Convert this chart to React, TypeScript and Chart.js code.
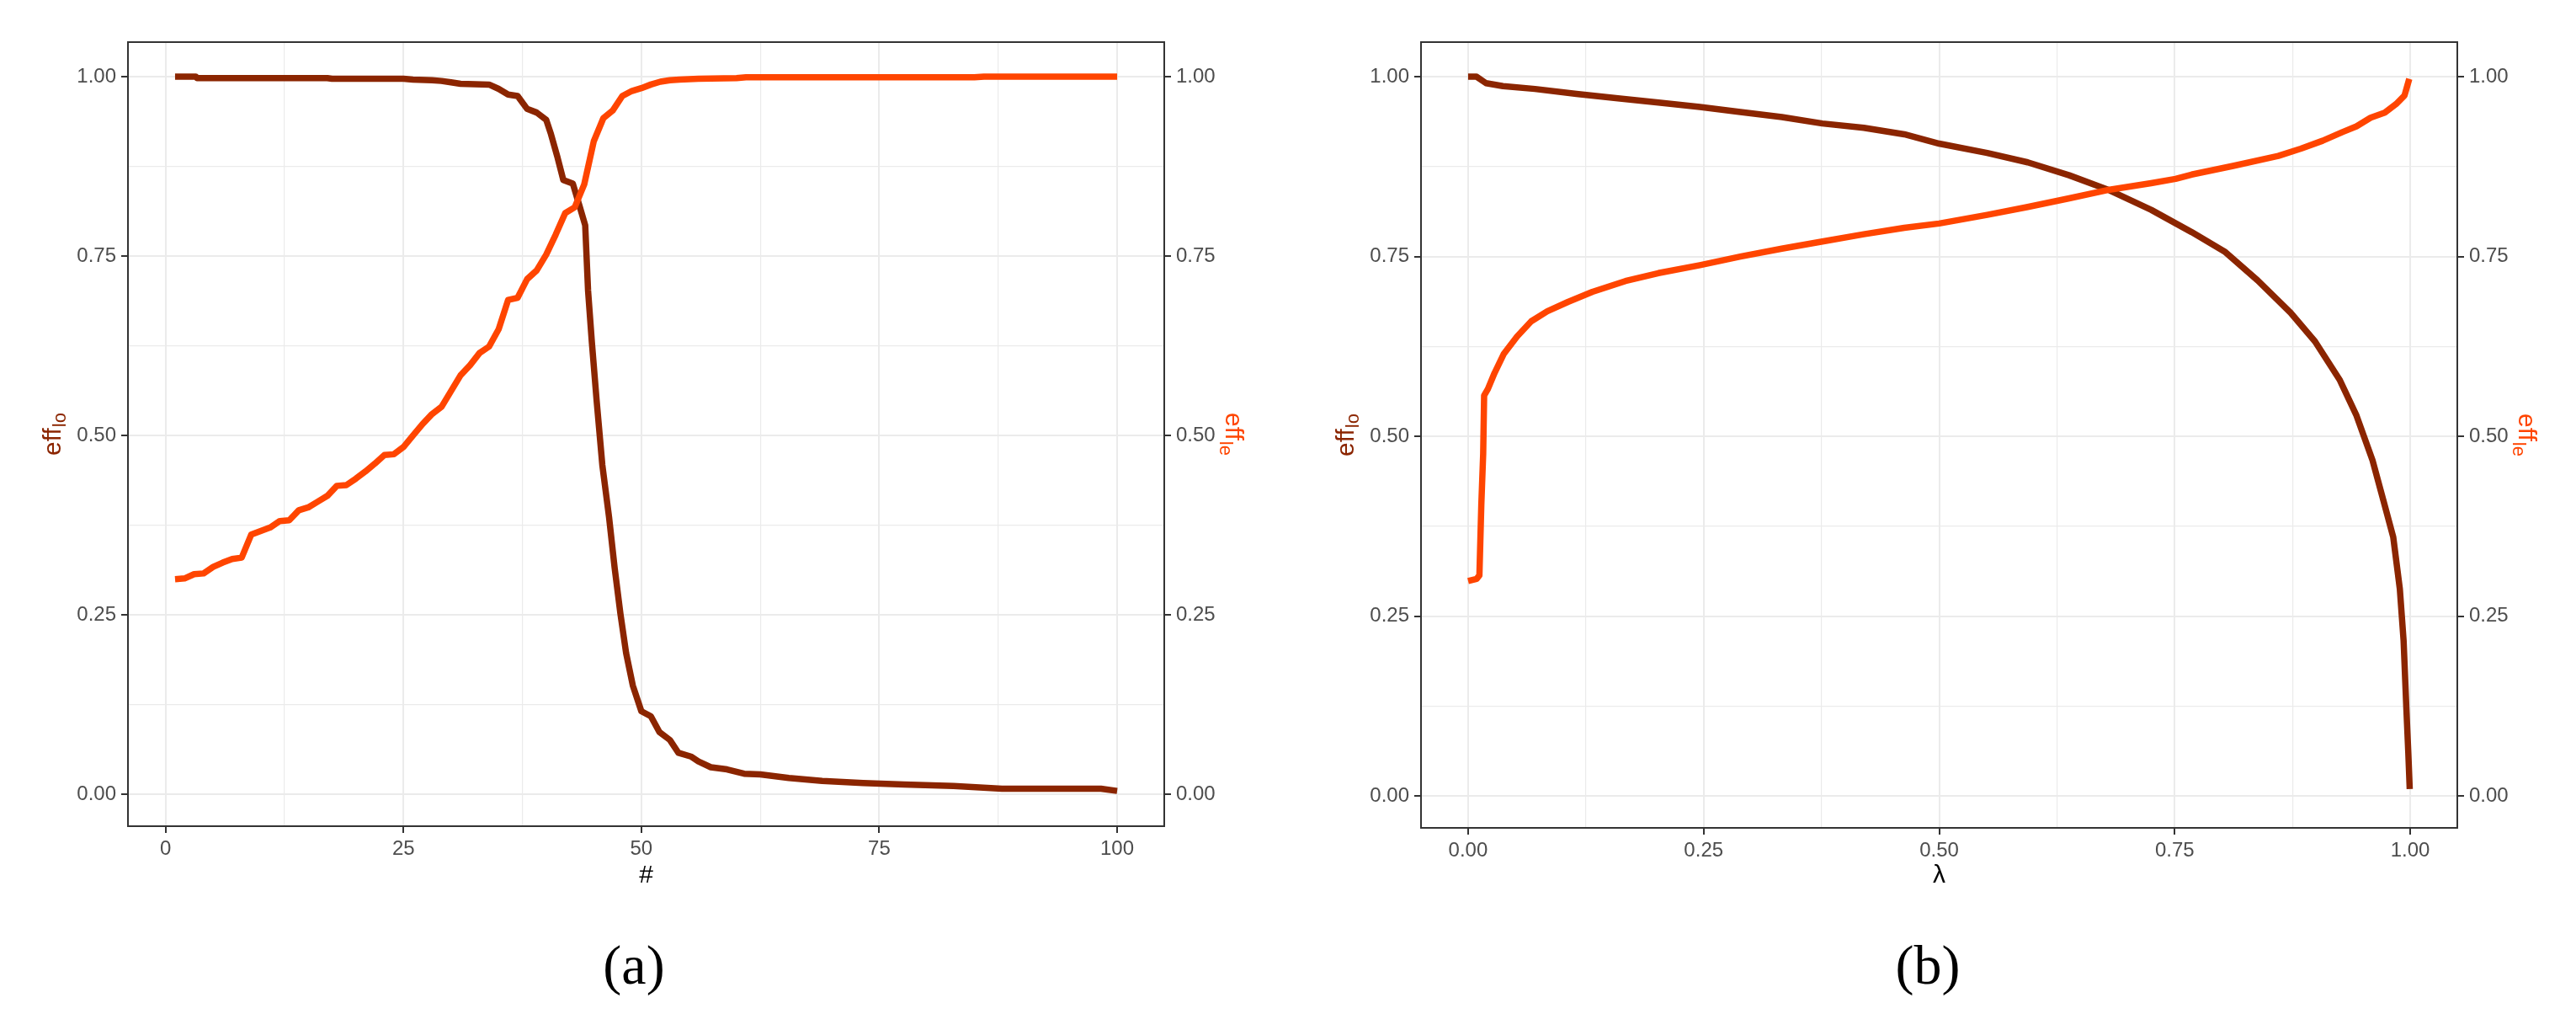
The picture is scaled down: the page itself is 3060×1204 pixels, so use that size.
import React, { useEffect, useRef } from 'react';
import { Chart, registerables } from 'chart.js';

Chart.register(...registerables);

const DARK = '#8B2500';
const ORANGE = '#FF4500';
const FAMILY = '"Liberation Sans", Arial, sans-serif';

// ---------- Panel (a): x = # ----------
const aLoX = [1, 3.2, 3.3, 17, 17.5, 25, 26, 28, 29, 30, 31, 34, 35, 36, 37, 38, 39, 40, 40.5, 41.2, 41.8, 42.8, 43.5, 44.1, 44.4, 44.8, 45.3, 45.9, 46.6, 47.2, 47.8, 48.4, 49.1, 50, 51, 51.9, 53, 53.9, 55.2, 56, 57.3, 59, 60.8, 62.5, 65.5, 69, 73.3, 77.6, 82.8, 87.9, 98.3, 100];
const aLoY = [1.0, 1.0, 0.998, 0.998, 0.997, 0.997, 0.996, 0.995, 0.994, 0.992, 0.99, 0.989, 0.983, 0.975, 0.973, 0.955, 0.95, 0.94, 0.92, 0.887, 0.856, 0.851, 0.82, 0.793, 0.702, 0.63, 0.549, 0.459, 0.387, 0.315, 0.252, 0.197, 0.152, 0.116, 0.109, 0.087, 0.076, 0.058, 0.053, 0.046, 0.038, 0.035, 0.029, 0.028, 0.023, 0.019, 0.016, 0.014, 0.012, 0.008, 0.008, 0.005];

const aLeX = [1, 2, 3, 4, 5, 6, 7, 8, 9, 10, 11, 12, 13, 14, 15, 16, 17, 18, 19, 20, 21, 22, 23, 24, 25, 26, 27, 28, 29, 30, 31, 32, 33, 34, 35, 36, 37, 38, 39, 40, 41, 42, 43, 44, 45, 46, 47, 48, 49, 50, 51, 52, 53, 54, 56, 60, 61, 85, 86, 100];
const aLeY = [0.3, 0.301, 0.307, 0.308, 0.317, 0.323, 0.328, 0.33, 0.362, 0.367, 0.372, 0.381, 0.382, 0.396, 0.4, 0.408, 0.416, 0.43, 0.431, 0.44, 0.45, 0.461, 0.473, 0.474, 0.484, 0.5, 0.516, 0.53, 0.54, 0.562, 0.584, 0.598, 0.615, 0.624, 0.648, 0.689, 0.692, 0.718, 0.73, 0.752, 0.78, 0.81, 0.818, 0.85, 0.91, 0.942, 0.953, 0.973, 0.98, 0.984, 0.989, 0.993, 0.995, 0.996, 0.997, 0.998, 0.999, 0.999, 1.0, 1.0];

const aXTicks = [0, 12.5, 25, 37.5, 50, 62.5, 75, 87.5, 100];
const aXLabeled = [0, 25, 50, 75, 100];

// ---------- Panel (b): x = lambda ----------
const bLoX = [0, 0.009, 0.019, 0.037, 0.071, 0.115, 0.159, 0.202, 0.246, 0.289, 0.333, 0.376, 0.42, 0.463, 0.5, 0.551, 0.594, 0.638, 0.681, 0.725, 0.768, 0.803, 0.838, 0.873, 0.899, 0.925, 0.943, 0.96, 0.973, 0.982, 0.989, 0.993, 0.996, 0.998, 0.9995];
const bLoY = [1.0, 1.0, 0.991, 0.987, 0.983, 0.976, 0.97, 0.964, 0.958, 0.951, 0.944, 0.935, 0.929, 0.92, 0.907, 0.894, 0.881, 0.863, 0.842, 0.815, 0.784, 0.757, 0.717, 0.672, 0.632, 0.579, 0.529, 0.467, 0.404, 0.36, 0.288, 0.216, 0.12, 0.06, 0.01];

const bLeX = [0, 0.009, 0.012, 0.014, 0.016, 0.017, 0.021, 0.028, 0.038, 0.052, 0.067, 0.084, 0.106, 0.132, 0.167, 0.202, 0.246, 0.289, 0.333, 0.376, 0.42, 0.463, 0.5, 0.551, 0.594, 0.638, 0.681, 0.725, 0.751, 0.768, 0.812, 0.86, 0.884, 0.907, 0.928, 0.943, 0.958, 0.973, 0.985, 0.994, 0.999];
const bLeY = [0.299, 0.302, 0.307, 0.404, 0.476, 0.557, 0.566, 0.588, 0.615, 0.639, 0.66, 0.674, 0.687, 0.701, 0.716, 0.727, 0.738, 0.75, 0.761, 0.771, 0.781, 0.79, 0.796, 0.808, 0.819, 0.831, 0.843, 0.852, 0.858, 0.864, 0.876, 0.89, 0.9, 0.911, 0.923, 0.931, 0.943, 0.95, 0.962, 0.974, 0.997];

const bXTicks = [0, 0.125, 0.25, 0.375, 0.5, 0.625, 0.75, 0.875, 1];
const bXLabeled = [0, 0.25, 0.5, 0.75, 1];

// ---------- shared y ----------
const yTicks = [0, 0.125, 0.25, 0.375, 0.5, 0.625, 0.75, 0.875, 1];
const yLabeled = [0, 0.25, 0.5, 0.75, 1];

const CW = 1530;
const CH = 1204;

function isIn(list: number[], v: number) {
  return list.some((t) => Math.abs(t - v) < 1e-9);
}

function drawRotTitle(ctx: CanvasRenderingContext2D, x: number, y: number, angle: number, main: string, sub: string, color: string, subShift: number) {
  ctx.save();
  ctx.translate(x, y);
  ctx.rotate(angle);
  ctx.fillStyle = color;
  ctx.textBaseline = 'alphabetic';
  ctx.textAlign = 'left';
  ctx.font = `30px ${FAMILY}`;
  const w1 = ctx.measureText(main).width;
  ctx.font = `22px ${FAMILY}`;
  const w2 = ctx.measureText(sub).width;
  const start = -(w1 + w2 + 1) / 2;
  ctx.font = `30px ${FAMILY}`;
  ctx.fillText(main, start, 0);
  ctx.font = `22px ${FAMILY}`;
  ctx.fillText(sub, start + w1 + 1, subShift);
  ctx.restore();
}

const framePlugin = {
  id: 'frameAndTitles',
  afterDraw(chart: any) {
    const { ctx, chartArea } = chart;
    ctx.save();
    ctx.strokeStyle = '#333333';
    ctx.lineWidth = 2;
    ctx.strokeRect(chartArea.left, chartArea.top, chartArea.right - chartArea.left, chartArea.bottom - chartArea.top);
    ctx.restore();
    const cy = (chartArea.top + chartArea.bottom) / 2;
    drawRotTitle(ctx, chartArea.left - 80, cy, -Math.PI / 2, 'eff', 'lo', DARK, 6);
    drawRotTitle(ctx, chartArea.right + 73, cy, Math.PI / 2, 'eff', 'le', ORANGE, 7);
  },
};

type PanelProps = {
  loX: number[];
  loY: number[];
  leX: number[];
  leY: number[];
  xTicks: number[];
  xLabeled: number[];
  xFmt: (v: number) => string;
  xTitle: string;
  xMin: number;
  xMax: number;
  area: { left: number; right: number; top: number; bottom: number };
};

function Panel(p: PanelProps) {
  const ref = useRef<HTMLCanvasElement | null>(null);
  useEffect(() => {
    if (!ref.current) return;
    const tickFont = { size: 24, family: FAMILY };
    const gridCommon = (labeled: number[]) => ({
      color: '#EBEBEB',
      lineWidth: (c: any) => (c.tick && isIn(labeled, c.tick.value) ? 2 : 1.2),
      tickColor: (c: any) => (c.tick && isIn(labeled, c.tick.value) ? '#333333' : 'rgba(0,0,0,0)'),
      tickWidth: 2,
      tickLength: 8,
      drawTicks: true,
    });
    const chart = new Chart(ref.current, {
      type: 'line',
      data: {
        datasets: [
          {
            label: 'eff_le',
            data: p.leX.map((x, i) => ({ x, y: p.leY[i] })),
            borderColor: ORANGE,
            borderWidth: 7.5,
            pointRadius: 0,
            tension: 0,
            fill: false,
            yAxisID: 'y2',
            order: 0,
            borderJoinStyle: 'round',
          },
          {
            label: 'eff_lo',
            data: p.loX.map((x, i) => ({ x, y: p.loY[i] })),
            borderColor: DARK,
            borderWidth: 7.5,
            pointRadius: 0,
            tension: 0,
            fill: false,
            yAxisID: 'y',
            order: 1,
            borderJoinStyle: 'round',
          },
        ],
      },
      options: {
        responsive: false,
        animation: false,
        devicePixelRatio: 1,
        layout: { padding: { left: 0, right: 0, top: p.area.top, bottom: 0 } },
        plugins: { legend: { display: false }, tooltip: { enabled: false } },
        scales: {
          x: {
            type: 'linear',
            min: p.xMin,
            max: p.xMax,
            afterBuildTicks: (s: any) => {
              s.ticks = p.xTicks.map((v) => ({ value: v }));
            },
            afterFit: (s: any) => {
              s.height = CH - p.area.bottom;
            },
            ticks: {
              color: '#4D4D4D',
              font: tickFont,
              padding: 5,
              maxRotation: 0,
              autoSkip: false,
              callback: (v: any) => (isIn(p.xLabeled, Number(v)) ? p.xFmt(Number(v)) : ''),
            },
            grid: gridCommon(p.xLabeled),
            border: { display: false },
            title: {
              display: true,
              text: p.xTitle,
              color: '#000000',
              font: { size: 30, family: FAMILY },
              padding: { top: 0, bottom: 146 },
            },
          },
          y: {
            type: 'linear',
            position: 'left',
            min: -0.0441,
            max: 1.0481,
            afterBuildTicks: (s: any) => {
              s.ticks = yTicks.map((v) => ({ value: v }));
            },
            afterFit: (s: any) => {
              s.width = p.area.left;
            },
            ticks: {
              color: '#4D4D4D',
              font: tickFont,
              padding: 6,
              autoSkip: false,
              callback: (v: any) => (isIn(yLabeled, Number(v)) ? Number(v).toFixed(2) : ''),
            },
            grid: gridCommon(yLabeled),
            border: { display: false },
          },
          y2: {
            type: 'linear',
            position: 'right',
            min: -0.0441,
            max: 1.0481,
            afterBuildTicks: (s: any) => {
              s.ticks = yTicks.map((v) => ({ value: v }));
            },
            afterFit: (s: any) => {
              s.width = CW - p.area.right;
            },
            ticks: {
              color: '#4D4D4D',
              font: tickFont,
              padding: 6,
              autoSkip: false,
              callback: (v: any) => (isIn(yLabeled, Number(v)) ? Number(v).toFixed(2) : ''),
            },
            grid: { ...gridCommon(yLabeled), drawOnChartArea: false },
            border: { display: false },
          },
        },
      } as any,
      plugins: [framePlugin],
    });
    return () => chart.destroy();
  }, []);
  return <canvas ref={ref} width={CW} height={CH} style={{ width: CW, height: CH, display: 'block' }} />;
}

const captionStyle = (cx: number): React.CSSProperties => ({
  position: 'absolute',
  left: cx - 100,
  top: 1113,
  width: 200,
  textAlign: 'center',
  fontFamily: '"Liberation Serif", "Times New Roman", serif',
  fontSize: 66,
  lineHeight: '66px',
  color: '#000',
});

export default function App() {
  return (
    <div style={{ position: 'absolute', left: 0, top: 0, width: 3060, height: 1204, background: '#fff', overflow: 'hidden' }}>
      <div style={{ position: 'absolute', left: 0, top: 0 }}>
        <Panel
          loX={aLoX}
          loY={aLoY}
          leX={aLeX}
          leY={aLeY}
          xTicks={aXTicks}
          xLabeled={aXLabeled}
          xFmt={(v) => String(v)}
          xTitle="#"
          xMin={-3.95}
          xMax={104.95}
          area={{ left: 152, right: 1383, top: 50, bottom: 981 }}
        />
      </div>
      <div style={{ position: 'absolute', left: 1530, top: 0 }}>
        <Panel
          loX={bLoX}
          loY={bLoY}
          leX={bLeX}
          leY={bLeY}
          xTicks={bXTicks}
          xLabeled={bXLabeled}
          xFmt={(v) => v.toFixed(2)}
          xTitle="λ"
          xMin={-0.05}
          xMax={1.05}
          area={{ left: 158, right: 1389, top: 50, bottom: 983 }}
        />
      </div>
      <div style={captionStyle(753)}>(a)</div>
      <div style={captionStyle(2290)}>(b)</div>
    </div>
  );
}
